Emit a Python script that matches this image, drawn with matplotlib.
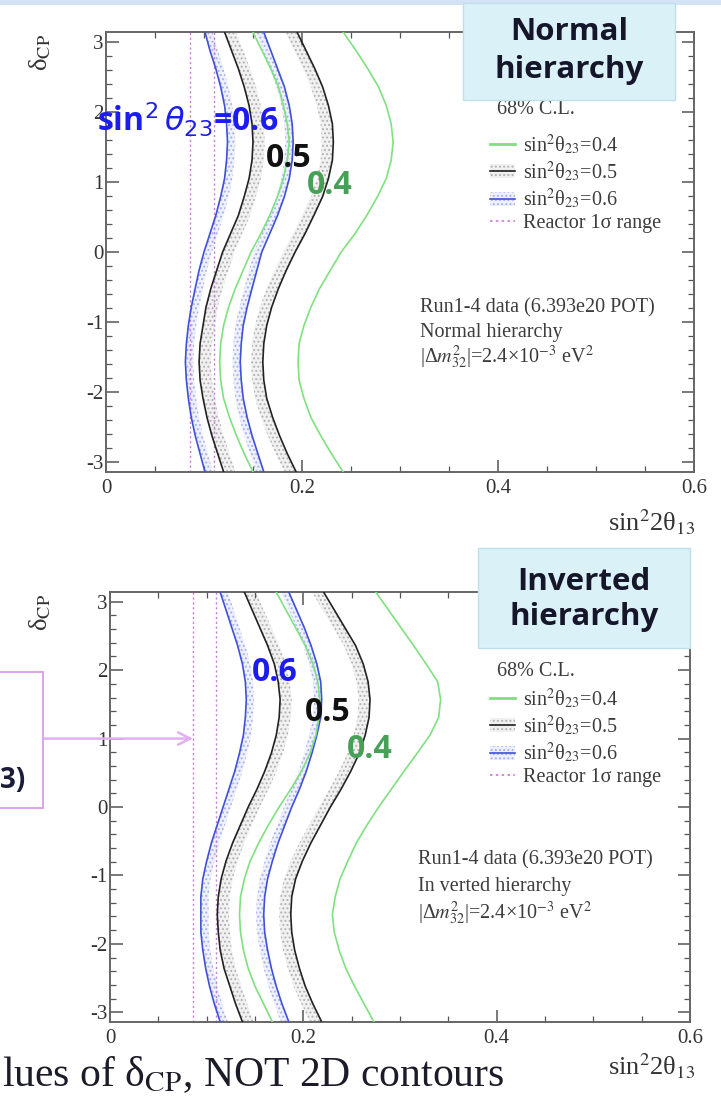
import numpy as np
import matplotlib
matplotlib.use("Agg")
import matplotlib.pyplot as plt
from matplotlib.lines import Line2D
from matplotlib.patches import Patch, Rectangle
from matplotlib.ticker import MultipleLocator

plt.rcParams["font.family"] = ["Liberation Serif", "DejaVu Serif"]
plt.rcParams["mathtext.fontset"] = "stix"
plt.rcParams["hatch.linewidth"] = 0.9

W, H = 721, 1100

# delta_CP grid where the 68% C.L. limits were read
delta_cp = [-3.14, -2.88, -2.62, -2.36, -2.09, -1.83, -1.57, -1.31, -1.05,
            -0.79, -0.52, -0.26, 0.0, 0.26, 0.52, 0.79, 1.05, 1.31, 1.57,
            1.83, 2.09, 2.36, 2.62, 2.88, 3.14]

# normal hierarchy: lower / upper sin^2(2 theta13) limit per sin^2(theta23)
nh_04_lo = [0.150, 0.141, 0.133, 0.126, 0.120, 0.117, 0.116, 0.117, 0.120,
            0.125, 0.132, 0.140, 0.148, 0.158, 0.167, 0.175, 0.181, 0.185,
            0.187, 0.185, 0.181, 0.176, 0.168, 0.159, 0.150]
nh_04_hi = [0.242, 0.230, 0.219, 0.209, 0.202, 0.197, 0.196, 0.197, 0.202,
            0.209, 0.218, 0.229, 0.240, 0.254, 0.266, 0.277, 0.286, 0.291,
            0.293, 0.291, 0.286, 0.278, 0.267, 0.255, 0.242]
nh_05_lo = [0.120, 0.114, 0.108, 0.103, 0.099, 0.096, 0.095, 0.096, 0.099,
            0.102, 0.107, 0.113, 0.119, 0.127, 0.135, 0.141, 0.146, 0.149,
            0.150, 0.149, 0.146, 0.141, 0.135, 0.128, 0.121]
nh_05_hi = [0.194, 0.185, 0.177, 0.170, 0.164, 0.161, 0.160, 0.161, 0.164,
            0.169, 0.176, 0.184, 0.193, 0.203, 0.212, 0.221, 0.227, 0.231,
            0.232, 0.231, 0.227, 0.221, 0.213, 0.204, 0.195]
nh_06_lo = [0.101, 0.096, 0.091, 0.087, 0.084, 0.082, 0.081, 0.082, 0.084,
            0.087, 0.091, 0.095, 0.100, 0.106, 0.112, 0.117, 0.121, 0.123,
            0.124, 0.123, 0.121, 0.117, 0.112, 0.106, 0.101]
nh_06_hi = [0.161, 0.155, 0.149, 0.144, 0.140, 0.138, 0.137, 0.138, 0.140,
            0.144, 0.149, 0.154, 0.159, 0.167, 0.175, 0.182, 0.187, 0.190,
            0.191, 0.190, 0.187, 0.182, 0.175, 0.168, 0.161]

# inverted hierarchy
ih_04_lo = [0.168, 0.159, 0.150, 0.143, 0.138, 0.135, 0.134, 0.135, 0.139,
            0.145, 0.154, 0.164, 0.175, 0.187, 0.198, 0.207, 0.213, 0.216,
            0.217, 0.215, 0.210, 0.202, 0.192, 0.182, 0.172]
ih_04_hi = [0.273, 0.263, 0.253, 0.244, 0.237, 0.232, 0.230, 0.233, 0.238,
            0.246, 0.255, 0.266, 0.278, 0.291, 0.304, 0.318, 0.331, 0.340,
            0.342, 0.339, 0.327, 0.314, 0.301, 0.288, 0.275]
ih_05_lo = [0.137, 0.130, 0.124, 0.118, 0.114, 0.112, 0.111, 0.112, 0.115,
            0.120, 0.127, 0.135, 0.143, 0.152, 0.160, 0.167, 0.172, 0.175,
            0.176, 0.174, 0.170, 0.163, 0.155, 0.147, 0.139]
ih_05_hi = [0.219, 0.210, 0.202, 0.196, 0.191, 0.188, 0.187, 0.188, 0.192,
            0.199, 0.208, 0.218, 0.228, 0.239, 0.249, 0.258, 0.264, 0.268,
            0.269, 0.267, 0.262, 0.254, 0.243, 0.232, 0.221]
ih_06_lo = [0.114, 0.108, 0.103, 0.099, 0.096, 0.094, 0.094, 0.094, 0.096,
            0.100, 0.105, 0.111, 0.117, 0.123, 0.129, 0.134, 0.138, 0.140,
            0.141, 0.140, 0.137, 0.132, 0.126, 0.120, 0.114]
ih_06_hi = [0.185, 0.178, 0.172, 0.167, 0.163, 0.160, 0.159, 0.160, 0.163,
            0.168, 0.174, 0.181, 0.188, 0.196, 0.203, 0.209, 0.214, 0.218,
            0.219, 0.218, 0.214, 0.208, 0.201, 0.193, 0.185]

reactor_range = [0.086, 0.110]
theta23_values = ["0.4", "0.5", "0.6"]

x_ticks = [0, 0.2, 0.4, 0.6]
x_tick_labels = ["0", "0.2", "0.4", "0.6"]
y_ticks = [-3, -2, -1, 0, 1, 2, 3]
y_tick_labels = ["-3", "-2", "-1", "0", "1", "2", "3"]

line_color = {"0.4": "#80e080", "0.5": "#222222", "0.6": "#4050d8"}
band_face = {"0.5": "#f1f1f1", "0.6": "#eef0fc"}
band_hatch = {"0.5": "#b2b2b2", "0.6": "#a6b0ee"}
band_width = {"0.5": 0.012, "0.6": 0.008}
reactor_color = "#c97ad9"
label_color = {"0.4": "#46a056", "0.5": "#111111", "0.6": "#1c1cf0"}
text_grey = "#3c3c3c"


def fx(px):
    return px / W


def fy(py):
    return 1 - py / H


def draw_panel(ax, bounds):
    for key in ("0.5", "0.6", "0.4"):
        lo = np.array(bounds[key][0])
        hi = np.array(bounds[key][1])
        if key in band_width:
            w = band_width[key]
            for a, b in ((lo, lo + w), (hi - w, hi)):
                ax.fill_betweenx(delta_cp, a, b, facecolor=band_face[key],
                                 edgecolor=band_hatch[key], hatch="....",
                                 linewidth=0, zorder=1)
        ax.plot(lo, delta_cp, color=line_color[key], lw=1.2, zorder=3)
        ax.plot(hi, delta_cp, color=line_color[key], lw=1.2, zorder=3)
    for r in reactor_range:
        ax.axvline(r, color=reactor_color, lw=1.0, ls=(0, (1.5, 2.0)), zorder=2)

    ax.set_xlim(0, 0.6)
    ax.set_ylim(-np.pi, np.pi)
    ax.set_xticks(x_ticks)
    ax.set_xticklabels(x_tick_labels)
    ax.set_yticks(y_ticks)
    ax.set_yticklabels(y_tick_labels)
    ax.xaxis.set_minor_locator(MultipleLocator(0.05))
    ax.yaxis.set_minor_locator(MultipleLocator(0.2))
    ax.tick_params(which="both", direction="in", top=True, right=True,
                   colors="#555555", labelcolor="#333333", labelsize=15)
    ax.tick_params(which="major", length=9, width=1.1)
    ax.tick_params(which="minor", length=4.5, width=0.9)
    ax.tick_params(axis="x", pad=5)
    ax.tick_params(axis="y", pad=2)
    for sp in ax.spines.values():
        sp.set_color("#666666")
        sp.set_linewidth(1.4)


def add_legend(ax, title_px, first_row_px):
    handles = [
        Line2D([], [], color=line_color["0.4"], lw=2),
        (Patch(facecolor=band_face["0.5"], edgecolor=band_hatch["0.5"], hatch="....", lw=0),
         Line2D([], [], color=line_color["0.5"], lw=1.2)),
        (Patch(facecolor=band_face["0.6"], edgecolor=band_hatch["0.6"], hatch="....", lw=0),
         Line2D([], [], color=line_color["0.6"], lw=1.2)),
        Line2D([], [], color=reactor_color, lw=1.2, ls=(0, (1.5, 2.0))),
    ]
    labels = ["sin$^2$θ$_{23}$=" + v for v in theta23_values] + ["Reactor 1σ range"]
    leg = ax.legend(handles, labels, loc="upper left",
                    bbox_to_anchor=(fx(490), fy(first_row_px - 11)),
                    bbox_transform=fig.transFigure, frameon=False, fontsize=14.5,
                    handlelength=1.25, handletextpad=0.4, labelspacing=0.12,
                    borderpad=0, borderaxespad=0, labelcolor=text_grey)
    leg.set_zorder(6)
    fig.text(fx(497), fy(title_px), "68% C.L.", va="center", fontsize=14.5,
             color=text_grey)


def add_box(x0, y0, x1, y1, line1, line2, base1, base2, cx):
    fig.patches.append(Rectangle((fx(x0), fy(y1)), (x1 - x0) / W, (y1 - y0) / H,
                                 transform=fig.transFigure, facecolor="#dbf1f8",
                                 edgecolor="#bfe0ea", lw=1.0, zorder=8))
    for txt, base in ((line1, base1), (line2, base2)):
        fig.text(fx(cx), fy(base), txt, ha="center", va="baseline", fontsize=22.5,
                 family="Open Sans", fontweight="bold", color="#16162a", zorder=9)


fig = plt.figure(figsize=(W / 100, H / 100), dpi=100)
fig.patches.append(Rectangle((0, fy(5)), 1, 5 / H, transform=fig.transFigure,
                             facecolor="#d3e2f4", edgecolor="none", zorder=0))

ax1 = fig.add_axes([fx(106), fy(472), (694 - 106) / W, (472 - 32) / H])
ax2 = fig.add_axes([fx(110), fy(1022), (690 - 110) / W, (1022 - 592) / H])

draw_panel(ax1, {"0.4": (nh_04_lo, nh_04_hi), "0.5": (nh_05_lo, nh_05_hi),
                 "0.6": (nh_06_lo, nh_06_hi)})
draw_panel(ax2, {"0.4": (ih_04_lo, ih_04_hi), "0.5": (ih_05_lo, ih_05_hi),
                 "0.6": (ih_06_lo, ih_06_hi)})

add_legend(ax1, 110, 143)
add_legend(ax2, 672, 697)

# run info
dm_text = "|Δ$m^2_{32}$|=2.4×10$^{-3}$ eV$^2$"
for text, y in (("Run1-4 data (6.393e20 POT)", 308), ("Normal hierarchy", 333),
                (dm_text, 357)):
    fig.text(fx(420), fy(y), text, va="center", fontsize=14.5, color=text_grey)
for text, y in (("Run1-4 data (6.393e20 POT)", 860), ("In verted hierarchy", 887),
                (dm_text, 913)):
    fig.text(fx(418), fy(y), text, va="center", fontsize=14.5, color=text_grey)

# axis titles
for y in (52, 612):
    fig.text(fx(40), fy(y), "δ$_{\\rm CP}$", rotation=90, ha="center",
             va="center", fontsize=19, color="#333333")
for y in (522, 1066):
    fig.text(fx(652), fy(y), "sin$^2$2θ$_{13}$", ha="center", va="center",
             fontsize=19, color="#333333")

# curve labels
bold = dict(family="Open Sans", fontweight="bold", fontsize=23, va="baseline",
            math_fontfamily="dejavusans")
fig.text(fx(97), fy(132), r"sin$^2\,\theta_{23}$=" + theta23_values[2],
         color=label_color["0.6"], **bold)
fig.text(fx(266), fy(167), theta23_values[1], color=label_color["0.5"], **bold)
fig.text(fx(307), fy(194), theta23_values[0], color=label_color["0.4"], **bold)
fig.text(fx(252), fy(681), theta23_values[2], color=label_color["0.6"], **bold)
fig.text(fx(305), fy(721), theta23_values[1], color=label_color["0.5"], **bold)
fig.text(fx(347), fy(758), theta23_values[0], color=label_color["0.4"], **bold)

add_box(463, 3, 675, 100, "Normal", "hierarchy", 40, 78, 569)
add_box(478, 548, 690, 648, "Inverted", "hierarchy", 590, 625, 584)

# side note pointing at the reactor band
fig.patches.append(Rectangle((fx(-10), fy(808)), 53 / W, (808 - 672) / H,
                             transform=fig.transFigure, facecolor="none",
                             edgecolor="#dca6ea", lw=1.5, zorder=5))
ax2.annotate("", xy=(reactor_range[0], 1.0), xycoords="data",
             xytext=(fx(43), 1.0), textcoords=("figure fraction", "data"),
             arrowprops=dict(arrowstyle="->", color="#e2b0f2", lw=1.8,
                             mutation_scale=22, shrinkA=0, shrinkB=0),
             annotation_clip=False, zorder=5)
fig.text(fx(0), fy(781), "3)", ha="left", va="center", family="Open Sans",
         fontweight="bold", fontsize=20, color="#1b1b3a")

fig.text(fx(2), fy(1086), "lues of δ$_{\\rm CP}$, NOT 2D contours",
         va="baseline", fontsize=30, color="#1c1c28")

fig.savefig("out.png", dpi=100)
